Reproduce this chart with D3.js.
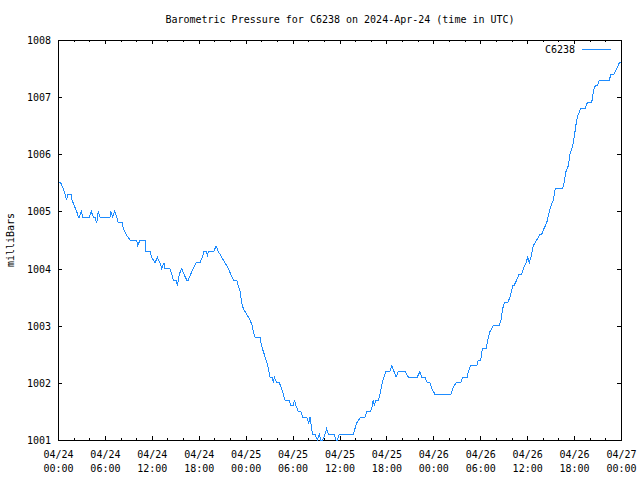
<!DOCTYPE html>
<html>
<head>
<meta charset="utf-8">
<script src="https://cdn.jsdelivr.net/npm/d3@7"></script>
<style>
  html, body { margin: 0; padding: 0; background: #fff; }
  svg { display: block; }
  text { font-family: "DejaVu Sans Mono", "Liberation Mono", monospace; font-size: 10px; fill: #000; }
</style>
</head>
<body>
<svg id="chart" width="640" height="480"></svg>
<script>
// ---- data ----
const title = "Barometric Pressure for C6238 on 2024-Apr-24 (time in UTC)";
const seriesName = "C6238";
const yLabel = "milliBars";
const startUTC = Date.UTC(2024, 3, 24, 0, 0);
// hours since 2024-04-24 00:00 UTC
const hours = [
  0.13,0.35,0.68,0.90,1.11,1.24,1.66,1.79,2.08,2.39,2.60,2.72,2.98,3.16,4.00,4.26,4.51,4.73,4.95,5.15,
  5.37,6.65,6.74,7.00,7.25,7.51,7.71,8.22,8.35,8.70,9.21,10.06,10.19,10.49,11.13,11.25,11.77,11.98,12.41,12.70,
  13.04,13.26,13.56,13.68,14.32,14.54,14.75,15.09,15.26,15.51,15.82,16.11,16.46,16.66,16.97,17.30,17.65,18.16,18.45,18.67,
  19.02,19.09,19.22,19.95,20.21,20.50,20.93,21.36,21.78,22.09,22.42,22.85,23.06,23.28,23.49,23.70,24.13,24.55,24.85,24.98,
  25.19,25.83,25.96,26.13,26.38,26.60,26.82,27.11,27.41,27.53,27.66,27.97,28.30,28.61,28.81,29.03,29.58,29.76,30.09,30.22,
  30.44,30.73,31.04,31.29,31.81,32.06,32.23,32.44,32.57,32.87,33.16,33.42,33.60,33.85,34.15,34.36,34.57,34.79,35.34,35.55,
  35.72,35.97,37.76,37.98,38.20,38.71,39.26,39.48,39.99,40.19,40.32,40.45,40.67,40.96,41.18,41.31,41.47,41.69,41.91,42.46,
  42.68,42.97,43.23,43.52,44.38,44.80,45.95,46.29,46.51,46.93,47.23,47.57,47.79,48.21,50.26,50.48,50.90,51.50,51.76,52.34,
  52.47,52.78,53.55,53.75,54.06,54.26,54.74,55.03,55.25,55.67,56.44,56.65,56.87,57.08,57.51,57.80,58.15,58.32,58.66,58.96,
  59.30,59.51,59.85,60.07,60.27,60.49,60.78,61.22,61.64,61.86,62.15,62.50,62.83,63.05,63.34,63.60,64.54,64.71,64.97,65.26,
  65.48,65.70,65.90,66.12,66.33,66.54,66.85,67.40,67.69,68.25,68.46,68.71,68.97,69.23,70.50,70.72,71.10,71.45,71.78,72.00
];
const pressure = [
  1005.5,1005.5,1005.4,1005.3,1005.2,1005.3,1005.3,1005.2,1005.1,1005.0,1004.9,1004.9,1005.0,1004.9,1004.9,1005.0,1004.9,1004.9,1004.8,1005.0,
  1004.9,1004.9,1005.0,1004.9,1005.0,1004.9,1004.8,1004.8,1004.7,1004.6,1004.5,1004.5,1004.4,1004.5,1004.5,1004.3,1004.3,1004.2,1004.1,1004.2,
  1004.1,1004.0,1004.1,1004.0,1004.0,1003.9,1003.8,1003.8,1003.7,1003.9,1004.0,1003.9,1003.8,1003.8,1003.9,1004.0,1004.1,1004.1,1004.2,1004.3,
  1004.3,1004.2,1004.3,1004.3,1004.4,1004.3,1004.2,1004.1,1004.0,1003.9,1003.8,1003.8,1003.7,1003.6,1003.4,1003.3,1003.2,1003.1,1003.0,1002.9,
  1002.8,1002.8,1002.7,1002.6,1002.5,1002.4,1002.3,1002.1,1002.1,1002.0,1002.1,1002.0,1002.0,1001.9,1001.8,1001.7,1001.7,1001.6,1001.6,1001.7,
  1001.6,1001.5,1001.5,1001.4,1001.4,1001.3,1001.4,1001.2,1001.1,1001.1,1001.0,1001.1,1001.0,1001.0,1001.1,1001.2,1001.1,1001.1,1001.1,1001.0,
  1001.0,1001.1,1001.1,1001.2,1001.3,1001.4,1001.4,1001.5,1001.5,1001.6,1001.7,1001.6,1001.7,1001.7,1001.8,1001.9,1002.0,1002.1,1002.2,1002.2,
  1002.3,1002.2,1002.1,1002.2,1002.2,1002.1,1002.1,1002.2,1002.1,1002.1,1002.0,1002.0,1001.9,1001.8,1001.8,1001.9,1002.0,1002.0,1002.1,1002.1,
  1002.2,1002.3,1002.3,1002.4,1002.4,1002.6,1002.6,1002.8,1002.9,1003.0,1003.0,1003.1,1003.3,1003.4,1003.4,1003.5,1003.7,1003.7,1003.8,1003.9,
  1003.9,1004.0,1004.1,1004.2,1004.1,1004.2,1004.4,1004.5,1004.6,1004.6,1004.7,1004.8,1005.0,1005.1,1005.2,1005.4,1005.4,1005.5,1005.7,1005.8,
  1006.0,1006.1,1006.2,1006.4,1006.6,1006.7,1006.8,1006.8,1006.9,1006.9,1007.1,1007.2,1007.2,1007.3,1007.3,1007.4,1007.4,1007.5,1007.6,1007.6
];
const yTicks = [1001, 1002, 1003, 1004, 1005, 1006, 1007, 1008];
const majorTickHours = [0, 6, 12, 18, 24, 30, 36, 42, 48, 54, 60, 66, 72];
const minorTickHours = [2, 4, 8, 10, 14, 16, 20, 22, 26, 28, 32, 34, 38, 40, 44, 46, 50, 52, 56, 58, 62, 64, 68, 70];

// ---- chart ----
const H = 3600 * 1000;
const toDate = h => new Date(startUTC + h * H);
const data = hours.map((h, i) => ({ t: toDate(h), v: pressure[i] }));

const svg = d3.select("#chart");
const L = 58, R = 621, T = 40, B = 440;
const x = d3.scaleUtc().domain([toDate(0), toDate(72)]).range([L, R]);
const y = d3.scaleLinear().domain([1001, 1008]).range([B, T]);

const fmt1 = d3.utcFormat("%m/%d");
const fmt2 = d3.utcFormat("%H:%M");

// title
svg.append("text").attr("x", 340).attr("y", 23).attr("text-anchor", "middle").text(title);

// y label
svg.append("text").attr("transform", "translate(14,240) rotate(-90)")
  .attr("text-anchor", "middle").text(yLabel);

// axes (ticks inward)
function styleAxis(g) {
  g.select(".domain").remove();
  g.selectAll("line").attr("stroke", "#000").attr("shape-rendering", "crispEdges");
}
svg.append("g").attr("transform", `translate(0,${B})`)
  .call(d3.axisBottom(x).tickValues(minorTickHours.map(toDate)).tickSize(-2).tickFormat(""))
  .call(styleAxis);
svg.append("g").attr("transform", `translate(0,${T})`)
  .call(d3.axisTop(x).tickValues(minorTickHours.map(toDate)).tickSize(-2).tickFormat(""))
  .call(styleAxis);
const xb = svg.append("g").attr("transform", `translate(0,${B})`)
  .call(d3.axisBottom(x).tickValues(majorTickHours.map(toDate)).tickSize(-4).tickFormat(""))
  .call(styleAxis);
svg.append("g").attr("transform", `translate(0,${T})`)
  .call(d3.axisTop(x).tickValues(majorTickHours.map(toDate)).tickSize(-4).tickFormat(""))
  .call(styleAxis);
xb.selectAll(".tick text").remove();
xb.selectAll(".tick").each(function(d) {
  const t = d3.select(this).append("text").attr("text-anchor", "middle")
    .attr("font-family", null).attr("font-size", null).attr("fill", "#000");
  t.append("tspan").attr("x", 0).attr("y", 18).text(fmt1(d));
  t.append("tspan").attr("x", 0).attr("y", 32).text(fmt2(d));
});

const yl = svg.append("g").attr("transform", `translate(${L},0)`)
  .call(d3.axisLeft(y).tickValues(yTicks).tickSize(-4).tickPadding(7).tickFormat(d3.format("d")))
  .call(styleAxis);
yl.selectAll("text").attr("font-family", null).attr("font-size", null).attr("fill", "#000").attr("dy", "0.35em");
svg.append("g").attr("transform", `translate(${R},0)`)
  .call(d3.axisRight(y).tickValues(yTicks).tickSize(-4).tickFormat(""))
  .call(styleAxis);

// frame
svg.append("rect").attr("x", L + 0.5).attr("y", T + 0.5).attr("width", R - L).attr("height", B - T)
  .attr("fill", "none").attr("stroke", "#000").attr("shape-rendering", "crispEdges");

// line
const color = "#1e8cff";
svg.append("path").datum(data)
  .attr("fill", "none").attr("stroke", color).attr("stroke-width", 1)
  .attr("shape-rendering", "crispEdges")
  .attr("d", d3.line().x(d => x(d.t)).y(d => y(d.v)));

// legend
svg.append("text").attr("x", 575).attr("y", 53).attr("text-anchor", "end").text(seriesName);
svg.append("line").attr("x1", 582).attr("x2", 611).attr("y1", 49.5).attr("y2", 49.5)
  .attr("stroke", color).attr("shape-rendering", "crispEdges");
</script>
</body>
</html>
